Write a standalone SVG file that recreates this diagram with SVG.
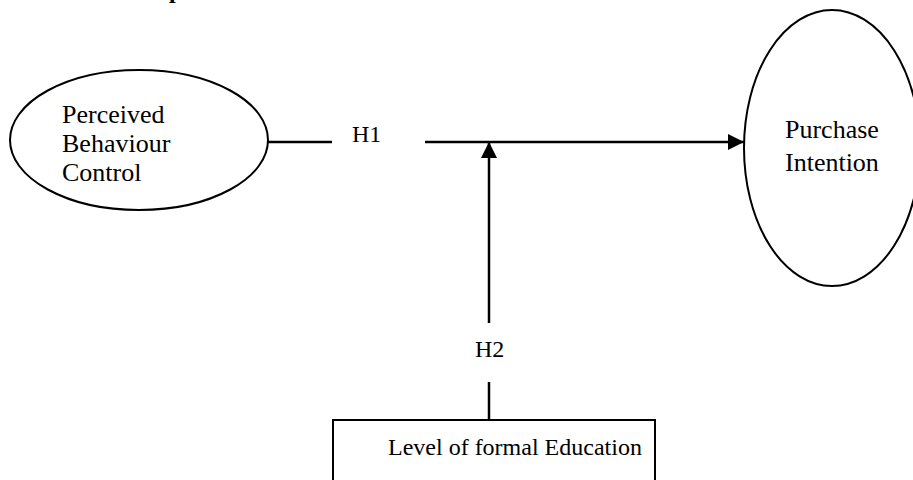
<svg xmlns="http://www.w3.org/2000/svg" width="913" height="480" viewBox="0 0 913 480">
<style>
.shape{fill:#fff;stroke:#000;stroke-width:2}
.t{font-family:"Liberation Serif","Times New Roman",serif;fill:#000}
.big{font-size:26px}
.lab{font-size:24px}
.ln{stroke:#000;stroke-width:2.5;fill:none}
</style>
<defs>
<marker id="ah" viewBox="0 0 10 10" refX="10" refY="5" markerWidth="6.5" markerHeight="6.5" markerUnits="userSpaceOnUse" orient="auto">
<path d="M0,0 L10,5 L0,10 Z" fill="#000"/>
</marker>
<marker id="ah2" viewBox="0 0 16 16" refX="16" refY="8" markerWidth="16" markerHeight="16" markerUnits="userSpaceOnUse" orient="auto">
<path d="M0,0 L16,8 L0,16 Z" fill="#000"/>
</marker>
</defs>
<rect width="913" height="480" fill="#fff"/>
<text class="t" x="169" y="-2" font-size="24" font-weight="bold">p</text>
<g id="connectors">
<line class="ln" x1="268" y1="142" x2="332" y2="142"/>
<line class="ln" x1="425" y1="142" x2="744" y2="142" marker-end="url(#ah2)"/>
<line class="ln" x1="489" y1="323" x2="489" y2="142" marker-end="url(#ah2)"/>
<line class="ln" x1="489" y1="382" x2="489" y2="420"/>
<text class="t lab" x="352" y="142">H1</text>
<text class="t lab" x="475" y="357">H2</text>
</g>
<g id="pbc">
<ellipse class="shape" cx="139" cy="140" rx="129" ry="70"/>
<text class="t big" x="62" y="123">Perceived</text>
<text class="t big" x="62" y="152">Behaviour</text>
<text class="t big" x="62" y="181">Control</text>
</g>
<g id="pi">
<ellipse class="shape" cx="832" cy="148" rx="88" ry="138"/>
<text class="t big" x="785" y="138">Purchase</text>
<text class="t big" x="785" y="171">Intention</text>
</g>
<g id="edu">
<rect class="shape" x="333" y="420" width="322" height="80"/>
<text class="t lab" x="388" y="455">Level of formal Education</text>
</g>
</svg>
